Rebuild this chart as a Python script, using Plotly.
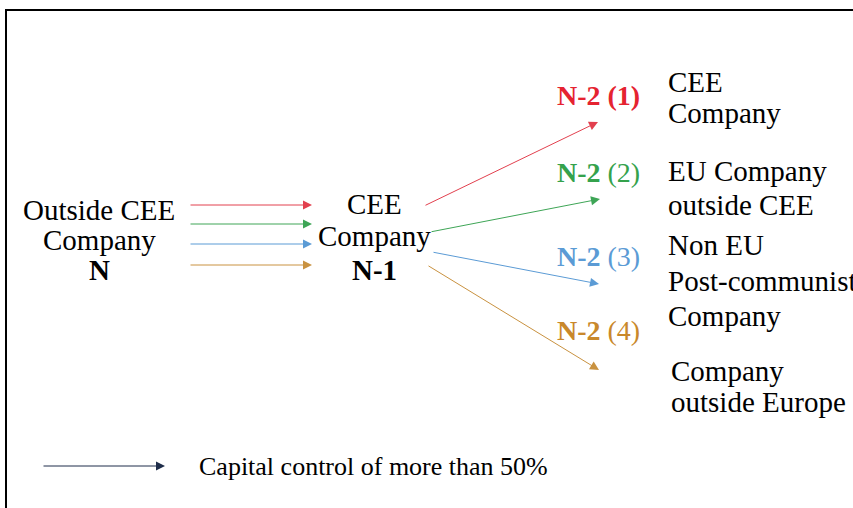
import plotly.graph_objects as go

W, H = 853, 508
FONT = "Liberation Serif"

# colours of the four ownership paths
path_colors = ["#e52330", "#35a24c", "#5b9bd5", "#c9882b"]
line_colors = ["#e2404e", "#3ea556", "#5b9bd5", "#c99240"]

# incoming arrows N -> N-1
in_x0, in_x1 = 189, 312
in_y = [205, 224, 244, 265]

# outgoing arrows N-1 -> N-2
out_start_x = [424, 430, 432, 427]
out_start_y = [206, 232, 252, 265]
out_end_x = [598, 600, 599, 599]
out_end_y = [122, 199, 284, 370]

# node texts
left_lines = ["Outside CEE", "Company", "<b>N</b>"]
left_y = [210, 240, 270]
mid_lines = ["CEE", "Company", "<b>N-1</b>"]
mid_y = [204, 236, 270]

n2_labels = ["<b>N-2 (1)</b>", "<b>N-2</b> (2)", "<b>N-2</b> (3)", "<b>N-2</b> (4)"]
n2_y = [95, 172, 256, 330]

right_lines = ["CEE", "Company", "EU Company", "outside CEE", "Non EU",
               "Post-communist", "Company", "Company", "outside Europe"]
right_x = [666, 666, 666, 666, 666, 666, 666, 669, 669]
right_y = [82, 113, 171, 205, 245, 281, 316, 371, 402]

legend_text = "Capital control of more than 50%"

fig = go.Figure()
fig.add_trace(go.Scatter(x=[0, W], y=[0, H], mode="markers",
                         marker=dict(opacity=0), hoverinfo="skip", showlegend=False))

ann = []


def txt(x, y, s, color="black", anchor="center", size=29):
    ann.append(dict(x=x, y=y, xref="x", yref="y", text=s, showarrow=False,
                    xanchor=anchor, yanchor="middle",
                    font=dict(family=FONT, size=size, color=color)))


def arrow(x0, y0, x1, y1, color):
    ann.append(dict(x=x1, y=y1, ax=x0, ay=y0, xref="x", yref="y", axref="x", ayref="y",
                    text="", showarrow=True, arrowhead=2, arrowsize=1.8,
                    arrowwidth=1, arrowcolor=color))


for yy, c in zip(in_y, line_colors):
    arrow(in_x0, yy, in_x1, yy, c)
for i in range(4):
    arrow(out_start_x[i], out_start_y[i], out_end_x[i], out_end_y[i], line_colors[i])

for s, yy in zip(left_lines, left_y):
    txt(99, yy, s)
for s, yy in zip(mid_lines, mid_y):
    txt(374, yy, s)
for s, yy, c in zip(n2_labels, n2_y, path_colors):
    txt(642, yy, s, color=c, anchor="right", size=28)
for s, xx, yy in zip(right_lines, right_x, right_y):
    txt(xx, yy, s, anchor="left")

arrow(42, 466, 165, 466, "#1f2d4a")
txt(197, 466, legend_text, anchor="left", size=26)

fig.update_layout(
    width=W, height=H,
    margin=dict(l=0, r=0, t=0, b=0),
    plot_bgcolor="white", paper_bgcolor="white",
    xaxis=dict(range=[0, W], visible=False, fixedrange=True),
    yaxis=dict(range=[H, 0], visible=False, fixedrange=True),
    annotations=ann,
    shapes=[
        dict(type="line", xref="x", yref="y", x0=5, x1=W, y0=10, y1=10,
             line=dict(color="black", width=2)),
        dict(type="line", xref="x", yref="y", x0=6, x1=6, y0=9, y1=H,
             line=dict(color="black", width=2)),
    ],
)

fig.write_html("out.html", config={"displayModeBar": False},
               post_script="document.body.style.margin='0';")
